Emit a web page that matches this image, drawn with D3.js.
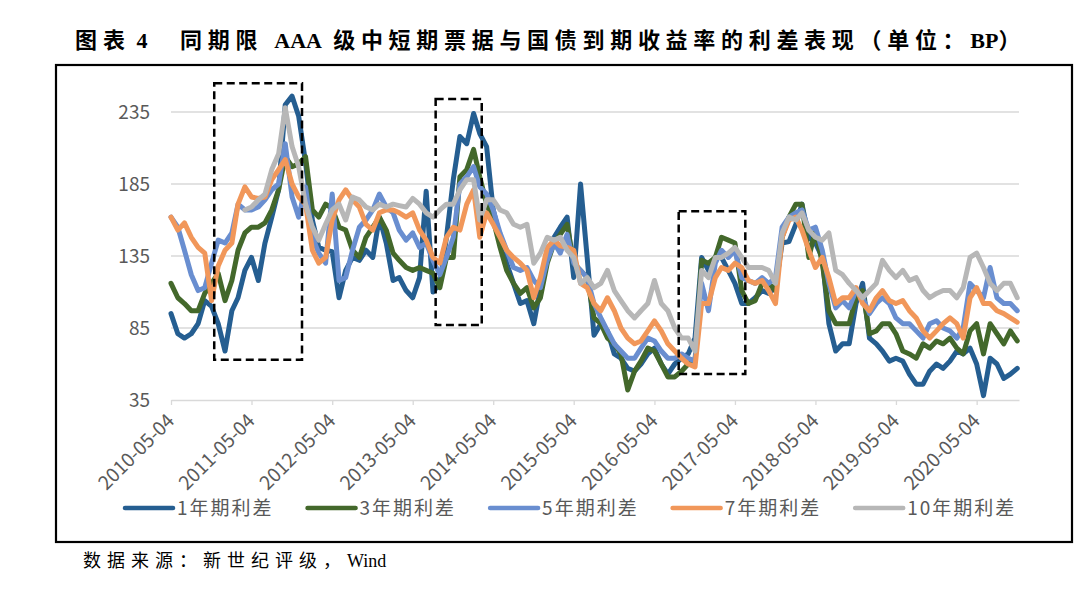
<!DOCTYPE html>
<html lang="zh">
<head>
    <meta charset="UTF-8">
    <title>同期限AAA级中短期票据与国债到期收益率的利差表现</title>
    <style>
        body { margin: 0; background: #fff; }
        svg text { font-family: "Noto Sans CJK SC", sans-serif; }
        .serif { font-family: "Liberation Serif", "Noto Sans CJK SC", serif; }
    </style>
</head>
<body>
    <svg id="chart" width="1080" height="589"></svg>
    <script src="https://cdnjs.cloudflare.com/ajax/libs/d3/7.8.5/d3.min.js"></script>
    <script>
        // monthly readings, first point at 2010-05-04
        var startDate = "2010-05-04";
        var seriesNames = ["1年期利差", "3年期利差", "5年期利差", "7年期利差", "10年期利差"];
        var seriesColors = ["#255e91", "#43682b", "#698ed0", "#f1975a", "#b7b7b7"];

        var spread1Y = [95,81,78,81,88,104,100,88,69,97,
            106,125,134,118,144,162,181,240,246,232,
            200,160,141,139,138,106,125,134,132,139,
            134,162,144,118,120,111,106,120,180,110,
            116,148,188,218,213,234,220,211,167,148,
            130,116,102,104,88,113,134,148,155,162,
            120,185,134,80,88,83,67,64,57,55,
            60,67,71,60,53,60,64,67,78,134,
            125,134,134,125,116,102,102,106,111,109,
            113,144,145,157,171,148,144,134,88,69,
            74,74,102,116,78,74,69,62,64,62,
            53,46,46,55,60,57,62,69,67,71,
            60,38,64,60,50,53,57];
        var spread3Y = [116,106,102,97,97,109,116,123,104,118,
            139,151,155,155,158,167,181,204,197,199,
            204,167,162,171,168,155,153,139,134,148,
            155,162,153,137,132,127,125,127,125,123,
            113,134,134,190,195,209,190,171,160,141,
            125,116,109,113,99,106,130,144,150,157,
            130,125,120,92,88,78,74,67,42,55,
            62,71,69,60,51,51,55,60,62,132,
            130,134,148,146,144,111,102,104,116,116,
            111,148,162,171,171,134,153,130,97,88,
            88,88,106,111,81,83,88,88,81,69,
            67,64,74,71,76,74,78,71,67,83,
            88,67,88,81,74,83,76];
        var spread5Y = [162,155,139,122,111,113,130,146,144,151,
            171,167,167,169,174,181,185,213,176,162,
            183,148,137,130,178,118,120,139,155,160,
            167,178,169,165,153,146,151,141,144,132,
            122,134,148,185,190,197,183,178,167,151,
            139,127,125,127,118,113,132,144,137,150,
            130,125,120,102,92,83,74,69,64,64,
            71,78,76,69,64,64,67,64,62,116,
            97,130,139,134,139,120,118,116,120,116,
            120,155,162,165,167,153,155,139,116,99,
            104,99,111,106,95,102,106,102,92,88,
            88,83,78,88,90,85,83,78,85,116,
            111,106,127,106,102,102,97];
        var spread7Y = [162,153,158,148,141,137,104,128,139,144,
            171,183,176,175,176,188,195,202,185,176,
            171,139,130,134,160,174,181,174,169,157,
            153,165,167,167,165,162,165,153,146,134,
            130,148,155,153,171,181,148,165,157,148,
            139,134,130,125,106,120,141,146,142,141,
            139,116,113,102,97,106,97,85,78,74,
            76,83,90,83,74,69,64,60,58,102,
            102,120,127,125,130,127,118,116,118,111,
            102,148,160,162,153,139,127,134,120,102,
            106,106,113,102,97,106,111,104,102,104,
            97,92,83,78,83,88,92,88,78,106,
            113,102,102,97,95,92,89];
        var spread10Y = [null,null,null,null,null,null,null,null,null,null,
            null,167,169,174,178,195,206,238,211,197,
            171,155,146,157,167,171,160,176,174,169,
            167,171,169,171,170,169,175,171,165,162,
            167,171,171,181,188,188,160,174,174,167,
            165,157,155,157,130,137,148,146,148,139,
            134,116,120,113,116,125,111,104,97,92,
            97,102,118,102,97,85,78,78,69,125,
            120,134,134,137,141,134,127,127,127,125,
            116,151,162,160,165,153,148,146,151,125,
            122,116,111,106,111,116,132,125,120,125,
            118,120,111,106,109,111,111,106,113,134,
            137,127,116,111,116,116,106];

        var yTicks = [35, 85, 135, 185, 235];
        var xTickLabels = ["2010-05-04","2011-05-04","2012-05-04","2013-05-04","2014-05-04","2015-05-04",
            "2016-05-04","2017-05-04","2018-05-04","2019-05-04","2020-05-04"];

        // dashed highlight boxes
        var boxFrom = ["2010-11-16", "2013-08-16", "2016-08-22"];
        var boxTo = ["2011-12-19", "2014-03-13", "2017-06-20"];
        var boxHigh = [255, 244, 166];
        var boxLow = [63, 87, 53];

        var parse = d3.timeParse("%Y-%m-%d");
        var svg = d3.select("#chart");

        var x = d3.scaleTime()
            .domain([parse("2010-05-04"), parse("2020-11-12")])
            .range([171, 1019]);
        var y = d3.scaleLinear()
            .domain([35, 235])
            .range([400, 112]);

        // outer frame
        svg.append("rect")
            .attr("x", 56).attr("y", 65)
            .attr("width", 1016).attr("height", 477)
            .attr("fill", "none")
            .attr("stroke", "#000")
            .attr("stroke-width", 2.2);

        // title, latin parts kept tight, chinese spaced
        function spacedText(parent, parts, spacing) {
            parts.forEach(function(p) {
                parent.append("tspan")
                    .style("letter-spacing", p.latin ? "0px" : spacing + "px")
                    .text(p.s);
            });
        }
        var title = svg.append("text")
            .attr("class", "serif")
            .attr("x", 75).attr("y", 48)
            .style("font-size", "22px")
            .style("font-weight", "bold");
        spacedText(title, [{ s: "图表" }, { s: " 4", latin: true }], 6);
        var title2 = svg.append("text")
            .attr("class", "serif")
            .attr("x", 180).attr("y", 48)
            .style("font-size", "22px")
            .style("font-weight", "bold");
        spacedText(title2, [
            { s: "同期限 " }, { s: "AAA", latin: true },
            { s: " 级中短期票据与国债到期收益率的利差表现（单位：" },
            { s: "BP", latin: true }, { s: "）" }
        ], 5.7);

        // gridlines
        svg.append("g")
            .selectAll("line")
            .data(yTicks.slice(1))
            .enter().append("line")
            .attr("x1", 171).attr("x2", 1019)
            .attr("y1", function(d) { return y(d); })
            .attr("y2", function(d) { return y(d); })
            .attr("stroke", "#d9d9d9")
            .attr("stroke-width", 1.3);

        // y labels
        svg.append("g")
            .selectAll("text")
            .data(yTicks)
            .enter().append("text")
            .attr("x", 150)
            .attr("y", function(d) { return y(d); })
            .attr("dy", "0.35em")
            .attr("text-anchor", "end")
            .attr("fill", "#595959")
            .style("font-size", "19px")
            .text(function(d) { return d; });

        // x axis
        var xAxis = svg.append("g")
            .attr("transform", "translate(0," + y(35) + ")")
            .call(d3.axisBottom(x)
                .tickValues(xTickLabels.map(parse))
                .tickSize(5)
                .tickSizeOuter(0)
                .tickFormat(d3.timeFormat("%Y-%m-%d")));
        xAxis.select(".domain").attr("stroke", "#d9d9d9").attr("stroke-width", 1.3);
        xAxis.selectAll(".tick line").attr("stroke", "#d9d9d9").attr("stroke-width", 1.3);
        xAxis.selectAll(".tick text")
            .attr("x", 0).attr("y", 0).attr("dy", 0)
            .attr("transform", "translate(4,22) rotate(-45)")
            .attr("text-anchor", "end")
            .attr("fill", "#595959")
            .style("font-family", "'Noto Sans CJK SC'")
            .style("font-size", "19px");

        // series
        var start = parse(startDate);
        var allSeries = [spread1Y, spread3Y, spread5Y, spread7Y, spread10Y];
        var line = d3.line()
            .defined(function(d) { return d.v != null; })
            .x(function(d) { return x(d.date); })
            .y(function(d) { return y(d.v); });

        allSeries.forEach(function(values, k) {
            var pts = values.map(function(v, i) {
                return { date: d3.timeMonth.offset(start, i), v: v };
            });
            svg.append("path")
                .datum(pts)
                .attr("fill", "none")
                .attr("stroke", seriesColors[k])
                .attr("stroke-width", 5)
                .attr("stroke-linejoin", "round")
                .attr("stroke-linecap", "round")
                .attr("d", line);
        });

        // dashed boxes
        boxFrom.forEach(function(d, i) {
            var x0 = x(parse(d)), x1 = x(parse(boxTo[i]));
            var y0 = y(boxHigh[i]), y1 = y(boxLow[i]);
            svg.append("rect")
                .attr("x", x0).attr("y", y0)
                .attr("width", x1 - x0).attr("height", y1 - y0)
                .attr("fill", "none")
                .attr("stroke", "#000")
                .attr("stroke-width", 2.5)
                .attr("stroke-dasharray", "8,4.5");
        });

        // legend
        var legend = svg.append("g").attr("transform", "translate(123,508)");
        var lx = 0;
        seriesNames.forEach(function(name, k) {
            legend.append("line")
                .attr("x1", lx + 2).attr("x2", lx + 50)
                .attr("y1", 0).attr("y2", 0)
                .attr("stroke", seriesColors[k])
                .attr("stroke-width", 4.5)
                .attr("stroke-linecap", "round");
            var t = legend.append("text")
                .attr("x", lx + 54).attr("y", 0)
                .attr("dy", "0.35em")
                .attr("fill", "#595959")
                .style("font-size", "19px")
                .style("letter-spacing", "2px")
                .text(name);
            lx += 54 + t.node().getComputedTextLength() + 32;
        });

        // source note
        var note = svg.append("text")
            .attr("class", "serif")
            .attr("x", 83).attr("y", 567)
            .style("font-size", "18px");
        spacedText(note, [{ s: "数据来源：新世纪评级，" }, { s: "Wind", latin: true }], 6);
    </script>
</body>
</html>
